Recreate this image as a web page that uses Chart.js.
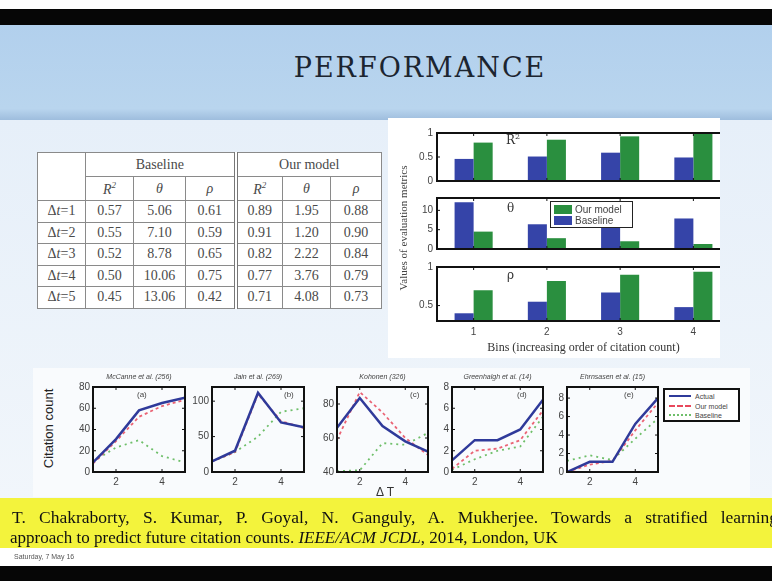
<!DOCTYPE html>
<html lang="en">
<head>
<meta charset="UTF-8">
<title>Performance</title>
<script src="https://cdn.jsdelivr.net/npm/chart.js@4.4.0/dist/chart.umd.min.js"></script>
<style>
  * { margin: 0; padding: 0; box-sizing: border-box; }
  body {
    width: 772px; height: 581px; overflow: hidden; position: relative;
    background: #fff; font-family: 'Liberation Sans', Arial, sans-serif;
  }
  .abs { position: absolute; }
  #topbar { left: 0; top: 9px; width: 772px; height: 16px; background: #060606; }
  #header { left: 0; top: 25px; width: 772px; height: 95px;
    background: linear-gradient(#b2d0ed, #b9d5ee 88%, #9ebddd); }
  #slide { left: 0; top: 120px; width: 772px; height: 378px;
    background: linear-gradient(#e6eff9, #f1f6fb); }
  #title { left: 280px; top: 52px; width: 280px; text-align: center;
    font-family: 'DejaVu Serif', serif; font-size: 27px; letter-spacing: 2px; color: #1c2530; }

  #tbl { left: 37px; top: 152px; width: 344px; border-collapse: collapse; background: #fff; table-layout: fixed;
    font-family: 'Liberation Serif', 'DejaVu Serif', serif; font-size: 14px; color: #4a4a4a; }
  #tbl td, #tbl th { border: 1px solid #8a8a8a; text-align: center; font-weight: normal; height: 21.5px; }
  #tbl tr.h1 th { height: 24px; }
  #tbl tr.h2 th { height: 24px; font-style: italic; }
  #tbl .dbl { border-left: 4px double #777; }

  #barPanel { left: 388px; top: 118px; width: 332px; height: 240px; background: #fff; overflow: hidden; }
  #barPanel canvas { position: absolute; }
  .sublab { position: absolute; font-family: 'DejaVu Serif', serif; font-size: 12px; color: #333; }
  #barYTitle { left: 318px; top: 222px; width: 170px; text-align: center; transform: rotate(-90deg);
    font-family: 'Liberation Serif', serif; font-size: 11px; color: #444; }
  #barLegend { left: 162px; top: 83px; width: 83px; height: 27px; border: 1px solid #222; background: #fff;
    font-size: 10px; color: #444; padding: 2px 3px; line-height: 11px; }
  #barLegend span.sw { display: inline-block; width: 18px; height: 9px; vertical-align: -1px; margin-right: 3px; }

  #linePanel { left: 33px; top: 368px; width: 717px; height: 129px; background: #f9fbfd; }
  canvas.line { position: absolute; }
  .ptitle { position: absolute; font-size: 7px; font-style: italic; color: #444; width: 120px; text-align: center; }
  .plab { position: absolute; font-size: 8px; color: #444; }
  #citeY { left: -2px; top: 421px; width: 100px; text-align: center; transform: rotate(-90deg);
    font-size: 13px; color: #222; }
  #deltaT { left: 376px; top: 485px; font-size: 12px; color: #333; }
  #lineLegend { left: 663px; top: 388px; width: 77px; height: 34px; border: 2px solid #111; background: #fff;
    font-size: 7px; color: #444; padding: 2px 4px; line-height: 9.5px; }
  #lineLegend span.ln { display: inline-block; width: 22px; height: 0; vertical-align: 2px; margin-right: 4px; }

  #cite { left: 0; top: 498px; width: 772px; height: 50px; background: #f3f33c; }
  #cite1 { left: 12px; top: 507px; width: 766px; white-space: nowrap; text-align: justify; text-align-last: justify;
    font-family: 'Liberation Serif', serif; font-size: 17.5px; color: #111; }
  #cite2 { left: 10px; top: 528px; white-space: nowrap;
    font-family: 'Liberation Serif', serif; font-size: 17px; color: #111; }
  #date { left: 14px; top: 553px; font-size: 7px; color: #555; }
  #botbar { left: 0; top: 566px; width: 772px; height: 15px; background: #060606; }
</style>
</head>
<body>
  <div id="topbar" class="abs"></div>
  <div id="header" class="abs"></div>
  <div id="slide" class="abs"></div>
  <div id="title" class="abs">PERFORMANCE</div>

  <table id="tbl" class="abs"></table>

  <div id="barPanel" class="abs">
    <canvas id="barR2"></canvas>
    <canvas id="barTheta"></canvas>
    <canvas id="barRho"></canvas>
    <div class="sublab" style="left:118px; top:14px;">R<sup style="font-size:8px">2</sup></div>
    <div class="sublab" style="left:119px; top:83px;">θ</div>
    <div class="sublab" style="left:119px; top:150px;">ρ</div>
    <div id="barLegend" class="abs"></div>
  </div>
  <div id="barYTitle" class="abs">Values of evaluation metrics</div>

  <div id="linePanel" class="abs"></div>
  <div id="citeY" class="abs">Citation count</div>
  <div id="deltaT" class="abs">Δ T</div>
  <div id="lineLegend" class="abs"></div>

  <div id="cite" class="abs"></div>
  <div id="cite1" class="abs">T. Chakraborty, S. Kumar, P. Goyal, N. Ganguly, A. Mukherjee. Towards a stratified learning</div>
  <div id="cite2" class="abs">approach to predict future citation counts. <i>IEEE/ACM JCDL</i>, 2014, London, UK</div>
  <div id="date" class="abs">Saturday, 7 May 16</div>
  <div id="botbar" class="abs"></div>

<script>
  const dtSteps = ['1', '2', '3', '4', '5'];
  const baseR2 = [0.57, 0.55, 0.52, 0.50, 0.45];
  const baseTheta = [5.06, 7.10, 8.78, 10.06, 13.06];
  const baseRho = [0.61, 0.59, 0.65, 0.75, 0.42];
  const oursR2 = [0.89, 0.91, 0.82, 0.77, 0.71];
  const oursTheta = [1.95, 1.20, 2.22, 3.76, 4.08];
  const oursRho = [0.88, 0.90, 0.84, 0.79, 0.73];

  // ---- barras por bin
  const bins = ['1', '2', '3', '4'];
  const binR2Base = [0.46, 0.51, 0.59, 0.49];
  const binR2Ours = [0.80, 0.86, 0.93, 1.00];
  const binThetaBase = [12.1, 6.4, 5.7, 7.9];
  const binThetaOurs = [4.5, 2.8, 2.0, 1.3];
  const binRhoBase = [0.40, 0.55, 0.67, 0.48];
  const binRhoOurs = [0.70, 0.82, 0.90, 0.94];

  // ---- linhas (Δ T = 1..5)
  const deltaT = [1, 2, 3, 4, 5];
  const paperTitles = ['McCanne et al. (256)', 'Jain et al. (269)', 'Kohonen (326)', 'Greenhalgh et al. (14)', 'Ehrnsasen et al. (15)'];
  const paperTags = ['(a)', '(b)', '(c)', '(d)', '(e)'];
  const actualA = [9, 31, 58, 65, 70];
  const oursA = [8, 29, 52, 62, 68];
  const baselineA = [10, 23, 30, 15, 9];
  const actualB = [15, 30, 112, 70, 63];
  const oursB = [15, 28, 110, 72, 62];
  const baselineB = [15, 28, 50, 85, 90];
  const actualC = [66, 83.5, 67, 58, 52];
  const oursC = [59, 87, 75, 60, 50];
  const baselineC = [40.5, 41, 57, 56, 63];
  const actualD = [1.1, 3.0, 3.0, 4.0, 6.8];
  const oursD = [0.3, 2.0, 2.2, 3.0, 5.8];
  const baselineD = [0.2, 1.2, 2.0, 2.4, 5.2];
  const actualE = [0, 1.1, 1.1, 5.2, 8.0];
  const oursE = [0, 0.8, 1.2, 4.5, 7.5];
  const baselineE = [1.2, 1.8, 1.3, 3.6, 5.8];

  const AZUL = '#3544a8', VERDE = '#2a8f3f';

  // tabela
  const f2 = v => v.toFixed(2);
  const r2 = 'R<sup style="font-size:9px">2</sup>';
  let html = '<colgroup><col style="width:48px"><col style="width:48px"><col style="width:52px"><col style="width:50px">' +
    '<col style="width:47px"><col style="width:48px"><col style="width:51px"></colgroup>' +
    '<tr class="h1"><th rowspan="2"></th><th colspan="3">Baseline</th><th colspan="3" class="dbl">Our model</th></tr>' +
    `<tr class="h2"><th>${r2}</th><th>θ</th><th>ρ</th><th class="dbl">${r2}</th><th>θ</th><th>ρ</th></tr>`;
  dtSteps.forEach((s, i) => {
    html += `<tr><td>Δ<i>t</i>=${s}</td><td>${f2(baseR2[i])}</td><td>${f2(baseTheta[i])}</td><td>${f2(baseRho[i])}</td>` +
      `<td class="dbl">${f2(oursR2[i])}</td><td>${f2(oursTheta[i])}</td><td>${f2(oursRho[i])}</td></tr>`;
  });
  document.getElementById('tbl').innerHTML = html;

  // legendas
  document.getElementById('barLegend').innerHTML =
    `<div><span class="sw" style="background:${VERDE}"></span>Our model</div>` +
    `<div><span class="sw" style="background:${AZUL}"></span>Baseline</div>`;
  document.getElementById('lineLegend').innerHTML =
    '<div><span class="ln" style="border-top:2.5px solid #2f3a9a"></span>Actual</div>' +
    '<div><span class="ln" style="border-top:2px dashed #e8485c"></span>Our model</div>' +
    '<div><span class="ln" style="border-top:2px dotted #6fbf6a"></span>Baseline</div>';

  // caixa estilo MATLAB com ticks para dentro
  const boxPlugin = {
    id: 'box',
    afterDraw(chart) {
      const { ctx, chartArea: a, scales } = chart;
      ctx.save();
      ctx.strokeStyle = '#111';
      ctx.lineWidth = 1;
      scales.y.ticks.forEach((t, i) => {
        const py = scales.y.getPixelForTick(i);
        ctx.beginPath();
        ctx.moveTo(a.left, py); ctx.lineTo(a.left + 3, py);
        ctx.moveTo(a.right, py); ctx.lineTo(a.right - 3, py);
        ctx.stroke();
      });
      scales.x.ticks.forEach((t, i) => {
        const px = scales.x.getPixelForTick(i);
        ctx.beginPath();
        ctx.moveTo(px, a.top); ctx.lineTo(px, a.top + 3);
        ctx.moveTo(px, a.bottom); ctx.lineTo(px, a.bottom - 3);
        ctx.stroke();
      });
      ctx.lineWidth = 2;
      ctx.strokeRect(a.left, a.top, a.right - a.left, a.bottom - a.top);
      ctx.restore();
    }
  };

  // posiciona o canvas para que a área do gráfico caia em (left, top, w, h)
  function place(canvas, area, yw, xh, padTop, padRight) {
    canvas.style.left = (area.left - yw) + 'px';
    canvas.style.top = (area.top - padTop) + 'px';
    canvas.width = yw + area.w + padRight;
    canvas.height = padTop + area.h + xh;
  }

  const tickFont = { family: 'Liberation Sans', size: 10 };
  const semGrade = { display: false, drawTicks: false };

  function barChart(id, area, base, ours, yMin, yMax, yTicks, xAxis) {
    const cv = document.getElementById(id);
    const xh = xAxis ? 36 : 1;
    place(cv, area, 36, xh, 8, 4);
    new Chart(cv, {
      type: 'bar',
      data: {
        labels: bins,
        datasets: [
          { label: 'Baseline', data: base, backgroundColor: AZUL },
          { label: 'Our model', data: ours, backgroundColor: VERDE }
        ]
      },
      options: {
        responsive: false, animation: false, devicePixelRatio: 1,
        categoryPercentage: 0.52, barPercentage: 1.0,
        layout: { autoPadding: false, padding: { top: 8, right: 4, left: 0, bottom: 0 } },
        plugins: { legend: { display: false }, tooltip: { enabled: false } },
        scales: {
          x: {
            display: xAxis, grid: semGrade, border: { display: false },
            ticks: { font: tickFont, color: '#444', padding: 5 },
            title: { display: xAxis, text: 'Bins (increasing order of citation count)',
              font: { family: 'Liberation Serif', size: 12 }, color: '#333', padding: { top: 0, bottom: 2 } },
            afterFit: s => { s.height = xh; }
          },
          y: {
            min: yMin, max: yMax, grid: semGrade, border: { display: false },
            ticks: { font: tickFont, color: '#444', padding: 4, callback: v => String(v) },
            afterBuildTicks: s => { s.ticks = yTicks.map(v => ({ value: v })); },
            afterFit: s => { s.width = 36; }
          }
        }
      },
      plugins: [boxPlugin]
    });
  }

  // coordenadas relativas ao painel das barras
  barChart('barR2', { left: 49, top: 13, w: 293, h: 59 }, binR2Base, binR2Ours, 0, 1, [0, 0.5, 1], false);
  barChart('barTheta', { left: 49, top: 78, w: 293, h: 62 }, binThetaBase, binThetaOurs, 0, 13.2, [0, 5, 10], false);
  barChart('barRho', { left: 49, top: 147, w: 293, h: 56 }, binRhoBase, binRhoOurs, 0.3, 1, [0.5, 1], true);

  // gráficos de linha
  const lineSets = [
    { area: { left: 93, top: 384, w: 92, h: 88 }, a: actualA, o: oursA, b: baselineA, min: 0, max: 80, ticks: [0, 20, 40, 60, 80], tagX: 137 },
    { area: { left: 212, top: 384, w: 92, h: 88 }, a: actualB, o: oursB, b: baselineB, min: 0, max: 120, ticks: [0, 50, 100], tagX: 284 },
    { area: { left: 337, top: 384, w: 91, h: 88 }, a: actualC, o: oursC, b: baselineC, min: 40, max: 90, ticks: [40, 60, 80], tagX: 410 },
    { area: { left: 452, top: 384, w: 91, h: 88 }, a: actualD, o: oursD, b: baselineD, min: 0, max: 8, ticks: [0, 2, 4, 6, 8], tagX: 517 },
    { area: { left: 567, top: 384, w: 91, h: 88 }, a: actualE, o: oursE, b: baselineE, min: 0, max: 9.2, ticks: [0, 2, 4, 6, 8], tagX: 624 }
  ];

  lineSets.forEach((p, k) => {
    const cv = document.createElement('canvas');
    cv.className = 'line';
    document.body.appendChild(cv);
    place(cv, p.area, 26, 18, 6, 4);

    const t = document.createElement('div');
    t.className = 'ptitle';
    t.style.left = (p.area.left + p.area.w / 2 - 60) + 'px';
    t.style.top = (p.area.top - 11) + 'px';
    t.textContent = paperTitles[k];
    document.body.appendChild(t);

    const g = document.createElement('div');
    g.className = 'plab';
    g.style.left = p.tagX + 'px';
    g.style.top = (p.area.top + 6) + 'px';
    g.textContent = paperTags[k];
    document.body.appendChild(g);

    new Chart(cv, {
      type: 'line',
      data: {
        labels: deltaT,
        datasets: [
          { label: 'Actual', data: p.a, borderColor: '#2f3a9a', borderWidth: 2.5, pointRadius: 0 },
          { label: 'Our model', data: p.o, borderColor: 'rgba(232,72,92,0.85)', borderWidth: 1.8, borderDash: [3, 3], pointRadius: 0 },
          { label: 'Baseline', data: p.b, borderColor: '#6fbf6a', borderWidth: 1.8, borderDash: [2, 4], pointRadius: 0 }
        ]
      },
      options: {
        responsive: false, animation: false, devicePixelRatio: 1,
        layout: { autoPadding: false, padding: { top: 6, right: 4, left: 0, bottom: 0 } },
        plugins: { legend: { display: false }, tooltip: { enabled: false } },
        scales: {
          x: {
            type: 'linear', min: 1, max: 5, grid: semGrade, border: { display: false },
            ticks: { font: tickFont, color: '#444', padding: 4 },
            afterBuildTicks: s => { s.ticks = [2, 4].map(v => ({ value: v })); },
            afterFit: s => { s.height = 18; }
          },
          y: {
            min: p.min, max: p.max, grid: semGrade, border: { display: false },
            ticks: { font: tickFont, color: '#444', padding: 3 },
            afterBuildTicks: s => { s.ticks = p.ticks.map(v => ({ value: v })); },
            afterFit: s => { s.width = 26; }
          }
        }
      },
      plugins: [boxPlugin]
    });
  });
</script>
</body>
</html>
